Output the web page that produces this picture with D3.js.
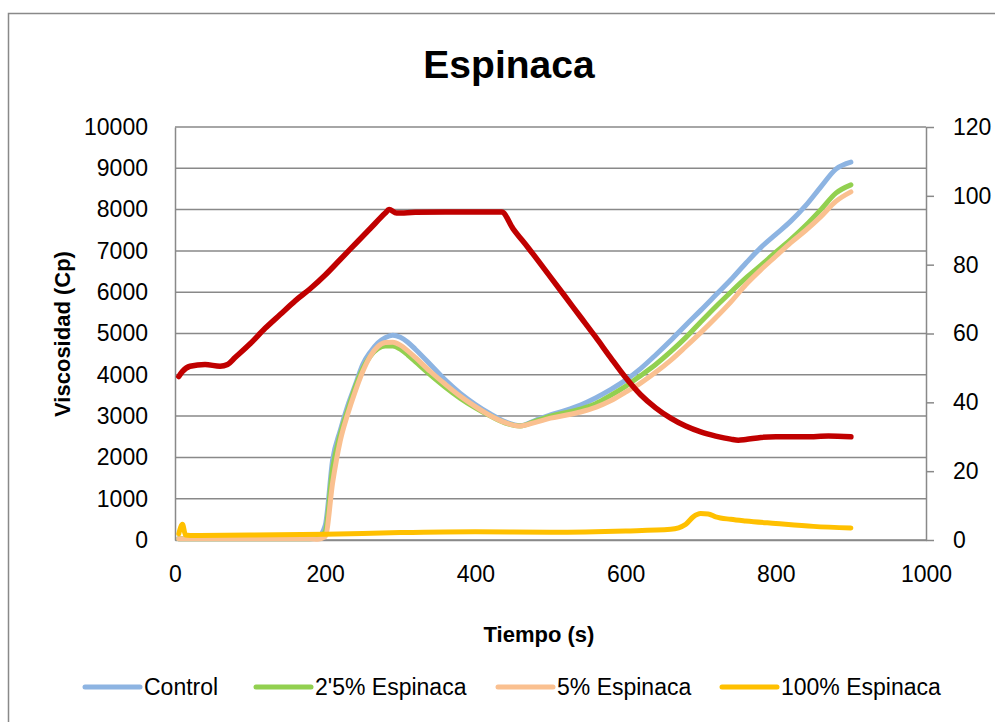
<!DOCTYPE html>
<html>
<head>
<meta charset="utf-8">
<script src="https://cdn.jsdelivr.net/npm/d3@7"></script>
<style>
  body { margin: 0; background: #fff; }
  svg text { font-family: "Liberation Sans", Arial, sans-serif; fill: #000; }
</style>
</head>
<body>
<svg id="chart" width="995" height="722"></svg>
<script>
// tiempo (s) for the three viscosity curves
const tiempoVisc = [5, 40, 80, 120, 160, 180, 190, 200, 210, 220, 230, 240, 250, 260, 270, 280, 290, 300, 310, 320,
  340, 360, 380, 400, 420, 440, 460, 480, 500, 520, 540, 560, 580, 600, 620, 640, 660, 680, 700, 720, 740, 760,
  780, 800, 820, 840, 860, 880, 900];
const control = [30, 30, 30, 30, 30, 30, 60, 350, 1950, 2650, 3250, 3750, 4250, 4550, 4770, 4900, 4960, 4910, 4790, 4620,
  4250, 3870, 3550, 3280, 3050, 2860, 2770, 2900, 3030, 3140, 3270, 3440, 3640, 3870, 4150, 4480, 4830, 5200, 5560, 5930, 6300, 6700,
  7080, 7400, 7720, 8100, 8550, 8980, 9150];
const espinaca25 = [30, 30, 30, 30, 30, 30, 40, 200, 1750, 2550, 3150, 3700, 4150, 4450, 4630, 4700, 4700, 4620, 4480, 4320,
  4000, 3700, 3430, 3200, 3000, 2830, 2760, 2880, 3000, 3080, 3170, 3300, 3500, 3720, 3980, 4250, 4560, 4900, 5280, 5650, 6000, 6340,
  6650, 6970, 7280, 7620, 8000, 8400, 8600];
const espinaca5 = [30, 30, 30, 30, 30, 30, 20, 80, 1400, 2400, 3050, 3600, 4080, 4450, 4680, 4780, 4790, 4720, 4580, 4420,
  4080, 3770, 3480, 3230, 3010, 2840, 2760, 2850, 2950, 3020, 3100, 3210, 3370, 3580, 3800, 4060, 4350, 4680, 5020, 5380, 5760, 6180,
  6540, 6870, 7200, 7500, 7830, 8200, 8430];

// 100% espinaca
const tiempo100 = [5, 10, 14, 20, 100, 200, 300, 400, 500, 600, 660, 680, 690, 700, 710, 720, 740, 760, 800, 850, 900];
const espinaca100 = [150, 380, 120, 110, 120, 140, 180, 200, 190, 220, 260, 380, 560, 640, 630, 560, 500, 460, 400, 330, 290];

// temperatura (eje derecho)
const tiempoTemp = [5, 10, 20, 40, 60, 70, 80, 100, 120, 140, 160, 180, 200, 220, 240, 260, 280, 285, 295, 320, 360, 400, 435,
  450, 470, 500, 520, 540, 560, 580, 600, 620, 640, 660, 680, 700, 720, 740, 750, 760, 780, 800, 840, 870, 900];
const temperatura = [47.5, 49, 50.5, 51, 50.5, 51, 53, 57, 61.5, 65.5, 69.5, 73, 77, 81.5, 86, 90.5, 95, 96, 95, 95.2, 95.3, 95.3, 95.3,
  90.5, 85, 76.4, 70.6, 64.8, 59, 53, 47.2, 42.2, 38.4, 35.4, 33.1, 31.4, 30.2, 29.3, 29, 29.2, 29.8, 30, 30, 30.2, 30];

const xTicks = [0, 200, 400, 600, 800, 1000];
const yLeftTicks = [0, 1000, 2000, 3000, 4000, 5000, 6000, 7000, 8000, 9000, 10000];
const yRightTicks = [0, 20, 40, 60, 80, 100, 120];

const seriesNames = ["Control", "2'5% Espinaca", "5% Espinaca", "100% Espinaca"];
const seriesColors = ["#8db4e2", "#92d050", "#fac090", "#ffc000"];
const tempColor = "#c00000";

const svg = d3.select("#chart");
const gray = "#898989";

// chart frame
svg.append("rect")
  .attr("x", 8.5).attr("y", 13.5)
  .attr("width", 1000).attr("height", 720)
  .attr("fill", "#fff")
  .attr("stroke", gray).attr("stroke-width", 1.5);

const x = d3.scaleLinear().domain([0, 1000]).range([175, 926]);
const yL = d3.scaleLinear().domain([0, 10000]).range([540, 127]);
const yR = d3.scaleLinear().domain([0, 120]).range([540, 127]);

// gridlines
svg.append("g")
  .selectAll("line")
  .data(yLeftTicks)
  .join("line")
  .attr("x1", x(0)).attr("x2", x(1000))
  .attr("y1", d => yL(d)).attr("y2", d => yL(d))
  .attr("stroke", gray).attr("stroke-width", 1.5);

const axisFont = 23;

const gL = svg.append("g")
  .attr("transform", "translate(" + x(0) + ",0)")
  .call(d3.axisLeft(yL).tickValues(yLeftTicks).tickSize(0).tickPadding(27).tickFormat(d3.format("d")));

const gR = svg.append("g")
  .attr("transform", "translate(" + x(1000) + ",0)")
  .call(d3.axisRight(yR).tickValues(yRightTicks).tickSizeInner(8).tickSizeOuter(0).tickPadding(19));

const gB = svg.append("g")
  .attr("transform", "translate(0," + yL(0) + ")")
  .call(d3.axisBottom(x).tickValues(xTicks).tickSize(0).tickPadding(26).tickFormat(d3.format("d")));

[gL, gR, gB].forEach(g => {
  g.select(".domain").attr("stroke", gray).attr("stroke-width", 1.5);
  g.selectAll(".tick line").attr("stroke", gray).attr("stroke-width", 1.5);
  g.selectAll("text").attr("font-size", axisFont).attr("font-family", "Liberation Sans, Arial, sans-serif").attr("fill", "#000");
});

// lines
const lineL = d3.line().x(d => x(d[0])).y(d => yL(d[1])).curve(d3.curveMonotoneX);
const lineR = d3.line().x(d => x(d[0])).y(d => yR(d[1])).curve(d3.curveMonotoneX);

const seriesData = [
  d3.zip(tiempoVisc, control),
  d3.zip(tiempoVisc, espinaca25),
  d3.zip(tiempoVisc, espinaca5),
  d3.zip(tiempo100, espinaca100)
];

svg.append("g")
  .selectAll("path")
  .data(seriesData)
  .join("path")
  .attr("d", lineL)
  .attr("fill", "none")
  .attr("stroke", (d, i) => seriesColors[i])
  .attr("stroke-width", 5)
  .attr("stroke-linecap", "round")
  .attr("stroke-linejoin", "round");

svg.append("path")
  .datum(d3.zip(tiempoTemp, temperatura))
  .attr("d", lineR)
  .attr("fill", "none")
  .attr("stroke", tempColor)
  .attr("stroke-width", 5.5)
  .attr("stroke-linecap", "round")
  .attr("stroke-linejoin", "round");

// titles
svg.append("text")
  .attr("x", 509).attr("y", 78)
  .attr("text-anchor", "middle")
  .attr("font-size", 39).attr("font-weight", "bold")
  .text("Espinaca");

svg.append("text")
  .attr("transform", "translate(70,334) rotate(-90)")
  .attr("text-anchor", "middle")
  .attr("font-size", 22).attr("font-weight", "bold")
  .text("Viscosidad (Cp)");

svg.append("text")
  .attr("x", 539).attr("y", 642)
  .attr("text-anchor", "middle")
  .attr("font-size", 22).attr("font-weight", "bold")
  .text("Tiempo (s)");

// legend
const legendX = [85, 256, 498, 722];
const legend = svg.append("g")
  .selectAll("g")
  .data(seriesNames)
  .join("g")
  .attr("transform", (d, i) => "translate(" + legendX[i] + ",687)");

legend.append("line")
  .attr("x1", 0).attr("x2", 55)
  .attr("stroke", (d, i) => seriesColors[i])
  .attr("stroke-width", 5)
  .attr("stroke-linecap", "round");

legend.append("text")
  .attr("x", 59).attr("y", 8)
  .attr("font-size", axisFont)
  .text(d => d);
</script>
</body>
</html>
